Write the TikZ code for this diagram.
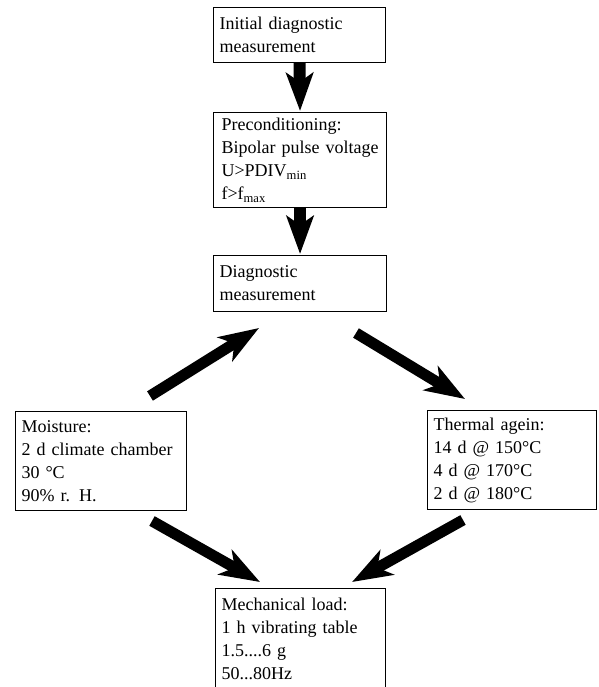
\documentclass[tikz,border=0pt]{standalone}
\usepackage{fontspec}
\setmainfont{Liberation Serif}
\usetikzlibrary{arrows.meta,calc}
\begin{document}
\begin{tikzpicture}[x=1pt,y=-1pt,
 box/.style={draw=black,line width=1.1pt,rectangle,anchor=north west,align=left,inner xsep=6pt,inner ysep=0pt,font=\fontsize{18}{23}\selectfont},
 vbig/.style={line width=12pt,-{Stealth[length=38pt,width=27pt,inset=9pt]}},
 dbig/.style={line width=11pt,-{Stealth[length=40pt,width=28pt,inset=11pt]}}]
\fill[white] (0,0) rectangle (598,687);
\clip (0,0) rectangle (598,687);
\node[box,text width=160pt,minimum height=55pt] (init) at (213,7) {Initial diagnostic\\measurement};
\node[box,inner xsep=8pt,text width=157pt,minimum height=95pt] (pre) at (213,112) {Preconditioning:\\Bipolar pulse voltage\\U>PDIV\textsubscript{min}\\f>f\textsubscript{max}};
\node[box,text width=161pt,minimum height=56pt] (diag) at (213,255) {Diagnostic\\measurement};
\node[box,text width=159pt,minimum height=99pt] (moist) at (15,411) {Moisture:\\2 d climate chamber\\30 °C\\90\% r. H.};
\node[box,text width=157pt,minimum height=99pt] (therm) at (427,410) {Thermal agein:\\14 d @ 150°C\\4 d @ 170°C\\2 d @ 180°C};
\node[box,text width=158pt,minimum height=101pt] (mech) at (215,588) {Mechanical load:\\1 h vibrating table\\1.5....6 g\\50...80Hz};
\draw[vbig,shorten >=1pt] (init.south) -- (pre.north);
\draw[vbig,shorten >=1pt] (pre.south) -- (diag.north);
\coordinate (m1) at (150,396); \coordinate (d1) at (259,328);
\coordinate (d2) at (356,333); \coordinate (t1) at (465,399);
\coordinate (m2) at (152,521); \coordinate (k1) at (260,582);
\coordinate (t2) at (463,520); \coordinate (k2) at (352,582);
\draw[dbig] (m1) -- (d1);
\draw[dbig] (d2) -- (t1);
\draw[dbig] (m2) -- (k1);
\draw[dbig] (t2) -- (k2);
\end{tikzpicture}
\end{document}
